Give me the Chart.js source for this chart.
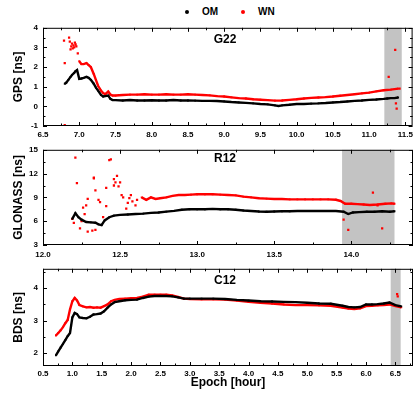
<!DOCTYPE html>
<html>
<head>
<meta charset="utf-8">
<script src="https://cdn.jsdelivr.net/npm/chart.js@4.4.0/dist/chart.umd.min.js"></script>
<style>
  html, body { margin: 0; padding: 0; background: #fff; width: 415px; height: 394px; overflow: hidden; position: relative; font-family: "Liberation Sans", Arial, sans-serif; }
  .panel { position: absolute; left: 0; width: 417px; }
  .lg { position: absolute; top: 5px; font-size: 10px; font-weight: bold; line-height: 14px; color: #000; }
  .dot { position: absolute; top: 10px; width: 4px; height: 4px; border-radius: 2px; }
</style>
</head>
<body>
<span class="dot" style="left:185px;background:#000"></span><span class="lg" style="left:202px">OM</span>
<span class="dot" style="left:241px;background:#f00"></span><span class="lg" style="left:258px">WN</span>
<div class="panel" style="top:18px;height:122px"><canvas id="c1"></canvas></div>
<div class="panel" style="top:140px;height:119px"><canvas id="c2"></canvas></div>
<div class="panel" style="top:259px;height:133px"><canvas id="c3"></canvas></div>
<script>
// G22 (GPS)
const xTicks1 = [6.5, 7.0, 7.5, 8.0, 8.5, 9.0, 9.5, 10.0, 10.5, 11.0, 11.5];
const yTicks1 = [-1, 0, 1, 2, 3, 4];
const band1 = [11.21, 11.45];
const omX1 = [6.80, 6.82, 6.85, 6.88, 6.90, 6.93, 6.95, 6.97, 7.00, 7.03, 7.06, 7.10, 7.13, 7.16, 7.20, 7.23, 7.26, 7.30, 7.33, 7.36, 7.40, 7.43, 7.46, 7.50,
  7.6, 7.7, 7.8, 7.9, 8.0, 8.1, 8.2, 8.3, 8.4, 8.5, 8.6, 8.7, 8.8, 8.9, 9.0, 9.1, 9.2, 9.3, 9.4, 9.5, 9.6, 9.7, 9.75,
  9.8, 9.9, 10.0, 10.1, 10.2, 10.3, 10.4, 10.5, 10.6, 10.7, 10.8, 10.9, 11.0, 11.1, 11.2, 11.25, 11.3, 11.35, 11.4];
const omY1 = [1.15, 1.2, 1.35, 1.5, 1.6, 1.7, 1.8, 1.85, 1.4, 1.42, 1.45, 1.5, 1.45, 1.35, 1.15, 0.95, 0.8, 0.58, 0.5, 0.52, 0.55, 0.38, 0.32, 0.32,
  0.3, 0.32, 0.3, 0.3, 0.31, 0.3, 0.3, 0.32, 0.3, 0.3, 0.29, 0.28, 0.28, 0.27, 0.25, 0.22, 0.2, 0.18, 0.15, 0.12, 0.1, 0.05, 0.02,
  0.05, 0.08, 0.12, 0.12, 0.14, 0.15, 0.17, 0.2, 0.22, 0.25, 0.28, 0.3, 0.33, 0.35, 0.38, 0.4, 0.42, 0.42, 0.45];
const wnX1 = [7.00, 7.03, 7.06, 7.10, 7.13, 7.16, 7.20, 7.23, 7.26, 7.30, 7.33, 7.36, 7.40, 7.43, 7.46, 7.50,
  7.6, 7.7, 7.8, 7.9, 8.0, 8.1, 8.2, 8.3, 8.4, 8.5, 8.6, 8.7, 8.8, 8.9, 9.0, 9.1, 9.2, 9.3, 9.4, 9.5, 9.6, 9.7,
  9.8, 9.9, 10.0, 10.1, 10.2, 10.3, 10.4, 10.5, 10.6, 10.7, 10.8, 10.9, 11.0, 11.1, 11.2, 11.3, 11.4];
const wnY1 = [2.3, 2.15, 2.15, 2.2, 2.1, 2.0, 1.65, 1.35, 1.05, 0.8, 0.68, 0.62, 0.75, 0.6, 0.55, 0.55,
  0.58, 0.6, 0.6, 0.62, 0.6, 0.6, 0.62, 0.6, 0.6, 0.62, 0.6, 0.58, 0.56, 0.52, 0.5, 0.46, 0.42, 0.4, 0.36, 0.34, 0.32, 0.29,
  0.3, 0.33, 0.36, 0.4, 0.43, 0.45, 0.47, 0.5, 0.54, 0.58, 0.62, 0.66, 0.7, 0.76, 0.82, 0.85, 0.9];
const wnScX1 = [6.79, 6.80, 6.80, 6.86, 6.87, 6.88, 6.89, 6.90, 6.91, 6.92, 6.93, 6.94, 6.95, 6.96, 6.98, 11.27, 11.36, 11.37, 11.38, 11.42];
const wnScY1 = [3.35, 2.2, -0.95, 3.5, 3.3, 2.9, 3.05, 3.2, 2.95, 3.1, 3.0, 3.25, 3.15, 3.05, 2.7, 1.5, 2.87, 0.15, -0.12, 0.9];

// R12 (GLONASS)
const xTicks2 = [12.0, 12.5, 13.0, 13.5, 14.0];
const yTicks2 = [3, 6, 9, 12, 15];
const band2 = [13.94, 14.28];
const omX2 = [12.19, 12.21, 12.23, 12.25, 12.28, 12.31, 12.34, 12.36, 12.38, 12.40, 12.43, 12.46, 12.50, 12.55, 12.60, 12.65, 12.70, 12.75, 12.80, 12.85,
  12.90, 12.95, 13.00, 13.05, 13.10, 13.15, 13.20, 13.25, 13.30, 13.35, 13.40, 13.45, 13.50, 13.55, 13.60, 13.65, 13.70, 13.75, 13.80, 13.85,
  13.90, 13.95, 13.98, 14.01, 14.05, 14.10, 14.15, 14.20, 14.25, 14.28];
const omY2 = [6.3, 7.0, 6.5, 6.2, 5.9, 5.85, 5.8, 5.6, 5.5, 6.1, 6.5, 6.7, 6.8, 6.85, 6.9, 6.95, 7.05, 7.1, 7.2, 7.3,
  7.45, 7.5, 7.5, 7.5, 7.55, 7.5, 7.5, 7.45, 7.35, 7.28, 7.22, 7.2, 7.22, 7.25, 7.25, 7.28, 7.28, 7.28, 7.28, 7.3,
  7.28, 7.2, 6.9, 7.1, 7.15, 7.2, 7.2, 7.25, 7.2, 7.25];
const wnX2 = [12.64, 12.67, 12.70, 12.73, 12.76, 12.80, 12.84, 12.88, 12.92, 12.96, 13.00, 13.05, 13.10, 13.15, 13.20, 13.25, 13.30, 13.35, 13.40,
  13.45, 13.50, 13.55, 13.60, 13.65, 13.70, 13.75, 13.80, 13.85, 13.90, 13.93, 13.96, 14.00, 14.04, 14.08, 14.12, 14.17, 14.22, 14.26, 14.28];
const wnY2 = [9.0, 8.7, 9.0, 8.8, 8.9, 9.0, 9.2, 9.3, 9.3, 9.35, 9.4, 9.4, 9.4, 9.35, 9.3, 9.25, 9.1, 9.0, 8.9,
  8.85, 8.8, 8.8, 8.75, 8.75, 8.75, 8.75, 8.75, 8.75, 8.7, 8.55, 8.2, 8.2, 8.15, 8.1, 8.05, 8.1, 8.2, 8.25, 8.2];
const wnScX2 = [12.19, 12.20, 12.21, 12.22, 12.24, 12.25, 12.26, 12.27, 12.28, 12.29, 12.29, 12.32, 12.33, 12.33, 12.34, 12.34, 12.36, 12.37, 12.39, 12.41,
  12.41, 12.43, 12.44, 12.46, 12.46, 12.47, 12.48, 12.49, 12.50, 12.51, 12.52, 12.54, 12.55, 12.56, 12.57, 12.58, 12.60, 12.61, 13.95, 13.98,
  14.14, 14.17, 14.20];
const wnScY2 = [6.3, 5.8, 14.0, 10.8, 5.1, 6.0, 7.7, 6.9, 8.0, 8.8, 4.7, 4.8, 11.5, 11.4, 9.9, 4.9, 8.7, 8.4, 6.5, 7.9,
  10.2, 13.7, 13.8, 11.3, 10.5, 10.9, 11.7, 10.4, 10.9, 9.3, 9.0, 7.6, 8.3, 8.9, 9.3, 8.5, 8.0, 8.7, 6.2, 4.9,
  9.6, 8.0, 5.1];

// C12 (BDS)
const xTicks3 = [0.5, 1.0, 1.5, 2.0, 2.5, 3.0, 3.5, 4.0, 4.5, 5.0, 5.5, 6.0, 6.5];
const yTicks3 = [2, 3, 4];
const band3 = [6.42, 6.59];
const epoch3 = [0.72, 0.76, 0.80, 0.84, 0.88, 0.92, 0.96, 1.00, 1.04, 1.08, 1.12, 1.18, 1.24, 1.30, 1.36, 1.42, 1.48, 1.54, 1.60, 1.66,
  1.72, 1.80, 1.90, 2.00, 2.10, 2.20, 2.30, 2.40, 2.50, 2.60, 2.70, 2.80, 2.90, 3.00, 3.20, 3.40, 3.60, 3.80, 4.00, 4.20,
  4.40, 4.60, 4.80, 5.00, 5.20, 5.40, 5.60, 5.70, 5.80, 5.90, 6.00, 6.10, 6.20, 6.30, 6.40, 6.50, 6.60];
const omY3 = [1.93, 2.05, 2.17, 2.28, 2.4, 2.52, 2.62, 3.1, 3.24, 3.2, 3.1, 3.08, 3.07, 3.12, 3.19, 3.2, 3.22, 3.29, 3.4, 3.5,
  3.57, 3.6, 3.63, 3.64, 3.65, 3.7, 3.74, 3.76, 3.76, 3.76, 3.75, 3.72, 3.68, 3.68, 3.68, 3.68, 3.67, 3.64, 3.62, 3.6,
  3.59, 3.58, 3.57, 3.55, 3.53, 3.52, 3.46, 3.42, 3.41, 3.42, 3.5, 3.5, 3.51, 3.53, 3.56, 3.48, 3.44];
const wnY3 = [2.54, 2.62, 2.7, 2.8, 2.92, 3.02, 3.35, 3.6, 3.7, 3.62, 3.48, 3.44, 3.41, 3.42, 3.4, 3.41, 3.4, 3.45, 3.5, 3.6,
  3.64, 3.67, 3.68, 3.69, 3.7, 3.74, 3.8, 3.8, 3.8, 3.8, 3.78, 3.73, 3.68, 3.67, 3.66, 3.66, 3.65, 3.62, 3.58, 3.55,
  3.53, 3.5, 3.48, 3.48, 3.47, 3.46, 3.4, 3.37, 3.36, 3.38, 3.45, 3.46, 3.47, 3.48, 3.5, 3.45, 3.41];
const wnScX3 = [6.53, 6.54];
const wnScY3 = [3.82, 3.75];

const BLACK = '#000000';
const RED = '#ff0000';
const FONT = "'Liberation Sans', Arial, sans-serif";

function pts(xs, ys) {
  return xs.map((x, i) => ({ x: x, y: ys[i] }));
}

function lineSet(xs, ys, color) {
  return {
    data: pts(xs, ys), showLine: true, borderColor: color, backgroundColor: color,
    borderWidth: 2.4, pointRadius: 1.3, pointStyle: 'rect', pointBorderWidth: 0, tension: 0
  };
}

function dotSet(xs, ys, color) {
  return {
    data: pts(xs, ys), showLine: false, backgroundColor: color, borderColor: color,
    pointRadius: 1.6, pointStyle: 'rect', pointBorderWidth: 0
  };
}

// minor ticks halfway between the labelled ones
function halfSteps(ticks, min, max) {
  const step = ticks[1] - ticks[0];
  const out = [];
  for (let v = ticks[0] - step; v <= max + 1e-9; v += step / 2) {
    if (v >= min - 1e-9) out.push(v);
  }
  return out;
}

// frame, inward ticks, gray band and panel name
const framePlugin = {
  id: 'frame',
  beforeDatasetsDraw(chart, args, opts) {
    const { ctx, chartArea: a, scales: { x } } = chart;
    const x0 = x.getPixelForValue(opts.band[0]);
    const x1 = x.getPixelForValue(opts.band[1]);
    ctx.save();
    ctx.fillStyle = '#c3c3c3';
    ctx.fillRect(x0, a.top, x1 - x0, a.bottom - a.top);
    ctx.restore();
  },
  afterDatasetsDraw(chart, args, opts) {
    const { ctx, chartArea: a, scales: { x, y } } = chart;
    ctx.save();
    ctx.strokeStyle = '#000';
    ctx.lineWidth = 1;
    ctx.strokeRect(a.left + 0.5, a.top + 0.5, a.right - a.left - 1, a.bottom - a.top - 1);
    ctx.beginPath();
    const major = (v, list) => list.some(t => Math.abs(t - v) < 1e-6);
    halfSteps(opts.xTicks, x.min, x.max).forEach(v => {
      const px = Math.round(x.getPixelForValue(v)) + 0.5;
      const len = major(v, opts.xTicks) ? 4 : 2.5;
      ctx.moveTo(px, a.bottom); ctx.lineTo(px, a.bottom - len);
      ctx.moveTo(px, a.top); ctx.lineTo(px, a.top + len);
    });
    halfSteps(opts.yTicks, y.min, y.max).forEach(v => {
      const py = Math.round(y.getPixelForValue(v)) + 0.5;
      const len = major(v, opts.yTicks) ? 4 : 2.5;
      ctx.moveTo(a.left, py); ctx.lineTo(a.left + len, py);
      ctx.moveTo(a.right, py); ctx.lineTo(a.right - len, py);
    });
    ctx.stroke();
    ctx.fillStyle = '#000';
    ctx.font = 'bold 12px ' + FONT;
    ctx.textAlign = 'center';
    ctx.textBaseline = 'middle';
    ctx.fillText(opts.tag, 225, a.top + opts.tagY);
    ctx.restore();
  }
};

function makeChart(id, cfg) {
  const tickFont = { family: FONT, size: 8, weight: 'bold' };
  return new Chart(document.getElementById(id), {
    type: 'scatter',
    data: { datasets: cfg.datasets },
    options: {
      responsive: true,
      maintainAspectRatio: false,
      animation: false,
      layout: { padding: { top: 5, right: 1, left: 0, bottom: 0 } },
      plugins: {
        legend: { display: false },
        tooltip: { enabled: false },
        frame: { band: cfg.band, xTicks: cfg.xTicks, yTicks: cfg.yTicks, tag: cfg.tag, tagY: cfg.tagY }
      },
      scales: {
        x: {
          type: 'linear', min: cfg.xMin, max: cfg.xMax,
          afterBuildTicks: s => { s.ticks = cfg.xTicks.map(v => ({ value: v })); },
          afterFit: s => { s.height = cfg.xTitle ? 26 : 14; },
          ticks: { color: '#000', font: tickFont, padding: cfg.xPad, autoSkip: false, maxRotation: 0, callback: v => v.toFixed(1) },
          grid: { display: false, drawTicks: false },
          border: { display: false },
          title: cfg.xTitle
            ? { display: true, text: cfg.xTitle, color: '#000', font: { family: FONT, size: 12, weight: 'bold' }, padding: { top: 0, bottom: 2 } }
            : { display: false }
        },
        y: {
          type: 'linear', min: cfg.yMin, max: cfg.yMax,
          afterBuildTicks: s => { s.ticks = cfg.yTicks.map(v => ({ value: v })); },
          afterFit: s => { s.width = 43; },
          ticks: { color: '#000', font: tickFont, padding: 5 },
          grid: { display: false, drawTicks: false },
          border: { display: false },
          title: { display: true, text: cfg.yTitle, color: '#000', font: { family: FONT, size: 12, weight: 'bold' }, padding: { top: 11, bottom: 0 } }
        }
      }
    },
    plugins: [framePlugin]
  });
}

makeChart('c1', {
  datasets: [lineSet(omX1, omY1, BLACK), lineSet(wnX1, wnY1, RED), dotSet(wnScX1, wnScY1, RED)],
  xMin: 6.5, xMax: 11.6, yMin: -1, yMax: 4, xTicks: xTicks1, yTicks: yTicks1,
  band: band1, tag: 'G22', tagY: 12, yTitle: 'GPS [ns]', xPad: 4
});

makeChart('c2', {
  datasets: [lineSet(omX2, omY2, BLACK), lineSet(wnX2, wnY2, RED), dotSet(wnScX2, wnScY2, RED)],
  xMin: 12.0, xMax: 14.4, yMin: 3, yMax: 15, xTicks: xTicks2, yTicks: yTicks2,
  band: band2, tag: 'R12', tagY: 9, yTitle: 'GLONASS [ns]', xPad: 5
});

makeChart('c3', {
  datasets: [lineSet(epoch3, omY3, BLACK), lineSet(epoch3, wnY3, RED), dotSet(wnScX3, wnScY3, RED)],
  xMin: 0.5, xMax: 6.8, yMin: 1.6, yMax: 4.6, xTicks: xTicks3, yTicks: yTicks3,
  band: band3, tag: 'C12', tagY: 12, yTitle: 'BDS [ns]', xTitle: 'Epoch [hour]', xPad: 3
});
</script>
</body>
</html>
